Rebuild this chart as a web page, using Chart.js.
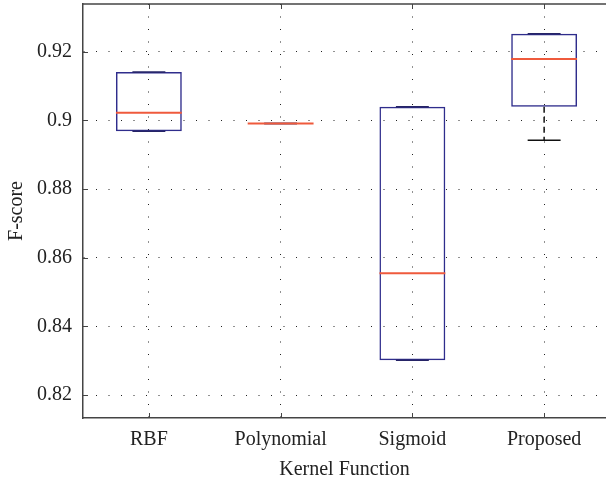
<!DOCTYPE html>
<html>
<head>
<meta charset="utf-8">
<script src="https://cdn.jsdelivr.net/npm/chart.js@4/dist/chart.umd.min.js"></script>
<style>
  html, body { margin: 0; padding: 0; background: #fff; overflow: hidden; }
  canvas { display: block; }
</style>
</head>
<body>
<canvas id="box" width="606" height="483"></canvas>
<script>
const kernels = ["RBF", "Polynomial", "Sigmoid", "Proposed"];
const q1 = [0.8968, 0.8991, 0.8301, 0.9040];
const q3 = [0.9141, 0.8991, 0.9040, 0.9252];
const medians = [0.9022, 0.8991, 0.8555, 0.9179];
const whiskerLow = [0.8968, 0.8991, 0.8301, 0.8942];
const whiskerHigh = [0.9141, 0.8991, 0.9040, 0.9252];
const yTicks = [0.82, 0.84, 0.86, 0.88, 0.90, 0.92];

const boxColor = "#2f2d8c";
const medianColor = "#ef5a3c";
const axisColor = "#444";
const font = { family: "'Liberation Serif', 'DejaVu Serif', serif", size: 20 };

// medians, whiskers, caps, top frame and inner tick marks
const boxExtras = {
  id: "boxExtras",
  afterDatasetsDraw(chart) {
    const ctx = chart.ctx;
    const x = chart.scales.x, y = chart.scales.y;
    const area = chart.chartArea;
    const boxW = (x.getPixelForValue(1) - x.getPixelForValue(0)) * 0.5;
    ctx.save();
    kernels.forEach((k, i) => {
      const cx = x.getPixelForValue(i);
      const yq1 = y.getPixelForValue(q1[i]);
      const yq3 = y.getPixelForValue(q3[i]);
      const yLo = y.getPixelForValue(whiskerLow[i]);
      const yHi = y.getPixelForValue(whiskerHigh[i]);
      // dashed whiskers
      ctx.strokeStyle = "#111";
      ctx.lineWidth = 1.5;
      ctx.setLineDash([6, 4]);
      if (yLo - yq1 > 1) {
        ctx.beginPath(); ctx.moveTo(cx, yq1); ctx.lineTo(cx, yLo); ctx.stroke();
      }
      if (yq3 - yHi > 1) {
        ctx.beginPath(); ctx.moveTo(cx, yq3); ctx.lineTo(cx, yHi); ctx.stroke();
      }
      ctx.setLineDash([]);
      // caps
      [yLo, yHi].forEach(v => {
        const inBox = Math.abs(v - yq1) < 1 || Math.abs(v - yq3) < 1;
        ctx.strokeStyle = inBox ? "#262466" : "#111";
        ctx.beginPath(); ctx.moveTo(cx - boxW / 4, v); ctx.lineTo(cx + boxW / 4, v); ctx.stroke();
      });
      // median
      const ym = y.getPixelForValue(medians[i]);
      ctx.strokeStyle = medianColor;
      ctx.lineWidth = 2;
      ctx.beginPath(); ctx.moveTo(cx - boxW / 2, ym); ctx.lineTo(cx + boxW / 2, ym); ctx.stroke();
    });
    // top frame
    ctx.strokeStyle = axisColor;
    ctx.lineWidth = 1.5;
    ctx.beginPath(); ctx.moveTo(area.left, area.top); ctx.lineTo(area.right, area.top); ctx.stroke();
    // inner ticks
    ctx.lineWidth = 1;
    yTicks.forEach(t => {
      const py = Math.round(y.getPixelForValue(t)) + 0.5;
      ctx.beginPath(); ctx.moveTo(area.left, py); ctx.lineTo(area.left + 5, py); ctx.stroke();
    });
    kernels.forEach((k, i) => {
      const px = Math.round(x.getPixelForValue(i)) + 0.5;
      ctx.beginPath(); ctx.moveTo(px, area.bottom); ctx.lineTo(px, area.bottom - 5); ctx.stroke();
      ctx.beginPath(); ctx.moveTo(px, area.top); ctx.lineTo(px, area.top + 5); ctx.stroke();
    });
    ctx.restore();
  }
};

new Chart(document.getElementById("box"), {
  type: "bar",
  data: {
    datasets: [{
      label: "F-score",
      data: kernels.map((k, i) => ({ x: i, y: [q1[i], q3[i]] })),
      backgroundColor: "rgba(0,0,0,0)",
      borderColor: boxColor,
      borderWidth: 1.5,
      borderSkipped: false,
      barPercentage: 0.5,
      categoryPercentage: 1
    }]
  },
  options: {
    responsive: false,
    animation: false,
    layout: { padding: { top: 4, right: 0, left: 0, bottom: 0 } },
    plugins: { legend: { display: false }, tooltip: { enabled: false } },
    scales: {
      x: {
        type: "linear",
        min: -0.5,
        max: 3.4696,
        offset: false,
        grid: { offset: false, color: "#222", lineWidth: 1, drawTicks: false },
        border: { color: axisColor, width: 1.5, dash: [1, 11.5] },
        afterBuildTicks: s => { s.ticks = kernels.map((k, i) => ({ value: i })); },
        ticks: { color: "#222", font: font, padding: 10, maxRotation: 0, callback: v => kernels[v] },
        title: { display: true, text: "Kernel Function", color: "#222", font: font, padding: { top: 0, bottom: 1 } },
        afterFit: s => { s.height = 65; s.paddingLeft = 0; s.paddingRight = 0; }
      },
      y: {
        min: 0.8133,
        max: 0.9339,
        grid: { color: "#222", lineWidth: 1, drawTicks: false },
        border: { color: axisColor, width: 1.5, dash: [1, 11.5] },
        afterBuildTicks: s => { s.ticks = yTicks.map(v => ({ value: v })); },
        ticks: {
          color: "#222", font: font, padding: 11,
          callback: v => String(+v.toFixed(2))
        },
        title: { display: true, text: "F-score", color: "#222", font: font, padding: { top: 5, bottom: 0 } },
        afterFit: s => { s.width = 83; s.paddingTop = 0; s.paddingBottom = 0; }
      }
    }
  },
  plugins: [boxExtras]
});
</script>
</body>
</html>
